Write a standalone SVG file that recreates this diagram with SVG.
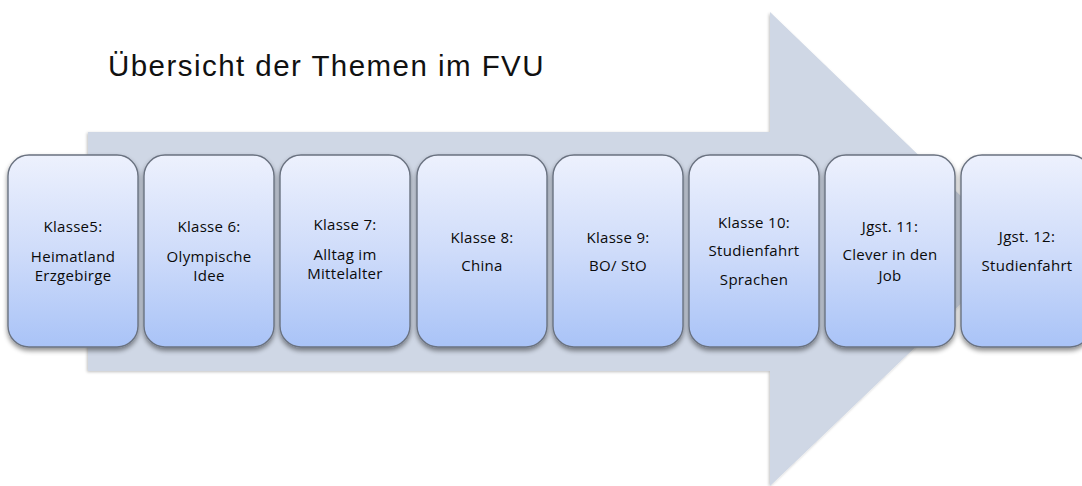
<svg xmlns="http://www.w3.org/2000/svg" width="1082" height="486" viewBox="0 0 1082 486">
<defs>
<linearGradient id="boxg" x1="0" y1="0" x2="0" y2="1">
<stop offset="0" stop-color="#edf1fd"/>
<stop offset="0.5" stop-color="#cfdcfa"/>
<stop offset="1" stop-color="#a9c3f7"/>
</linearGradient>
<filter id="sh" x="-10%" y="-10%" width="120%" height="125%">
<feGaussianBlur in="SourceAlpha" stdDeviation="2.5"/>
<feOffset dx="0" dy="3" result="b"/>
<feComponentTransfer><feFuncA type="linear" slope="0.45"/></feComponentTransfer>
<feMerge><feMergeNode/><feMergeNode in="SourceGraphic"/></feMerge>
</filter>
<filter id="ash" x="-5%" y="-5%" width="110%" height="110%">
<feGaussianBlur in="SourceAlpha" stdDeviation="1.5"/>
<feOffset dx="-1" dy="1"/>
<feComponentTransfer><feFuncA type="linear" slope="0.25"/></feComponentTransfer>
<feMerge><feMergeNode/><feMergeNode in="SourceGraphic"/></feMerge>
</filter>
</defs>
<style>
.box{fill:url(#boxg);stroke:#6a7280;stroke-width:1.4;filter:url(#sh)}
.t{font-family:"Open Sans","Liberation Sans",sans-serif;font-size:15px;letter-spacing:0.3px;fill:#0a0a0a;text-anchor:middle}
.title{font-family:"Liberation Sans",Arial,sans-serif;font-size:29.5px;letter-spacing:1.45px;fill:#111}
</style>
<rect width="1082" height="486" fill="#ffffff"/>
<g id="arrow">
<path d="M88,132 L770,132 L770,12 L1017,250 L770,486 L770,371 L88,371 Z" fill="#cfd7e5" filter="url(#ash)"/>
</g>
<g id="title">
<text class="title" x="108" y="76">Übersicht der Themen im FVU</text>
</g>
<g id="connectors"></g>
<g id="n1"><rect class="box" x="8" y="155" width="130" height="192" rx="21"/>
<text class="t" x="73" y="232">Klasse5:</text><text class="t" x="73" y="262">Heimatland</text><text class="t" x="73" y="281">Erzgebirge</text></g>
<g id="n2"><rect class="box" x="144" y="155" width="130" height="192" rx="21"/>
<text class="t" x="209" y="232">Klasse 6:</text><text class="t" x="209" y="262">Olympische</text><text class="t" x="209" y="281">Idee</text></g>
<g id="n3"><rect class="box" x="280" y="155" width="130" height="192" rx="21"/>
<text class="t" x="345" y="230">Klasse 7:</text><text class="t" x="345" y="260">Alltag im</text><text class="t" x="345" y="279">Mittelalter</text></g>
<g id="n4"><rect class="box" x="417" y="155" width="130" height="192" rx="21"/>
<text class="t" x="482" y="243">Klasse 8:</text><text class="t" x="482" y="271">China</text></g>
<g id="n5"><rect class="box" x="553" y="155" width="130" height="192" rx="21"/>
<text class="t" x="618" y="243">Klasse 9:</text><text class="t" x="618" y="271">BO/ StO</text></g>
<g id="n6"><rect class="box" x="689" y="155" width="130" height="192" rx="21"/>
<text class="t" x="754" y="228">Klasse 10:</text><text class="t" x="754" y="256">Studienfahrt</text><text class="t" x="754" y="285">Sprachen</text></g>
<g id="n7"><rect class="box" x="825" y="155" width="130" height="192" rx="21"/>
<text class="t" x="890" y="232">Jgst. 11:</text><text class="t" x="890" y="260">Clever in den</text><text class="t" x="890" y="281">Job</text></g>
<g id="n8"><rect class="box" x="961" y="155" width="130" height="192" rx="21"/>
<text class="t" x="1027" y="242">Jgst. 12:</text><text class="t" x="1027" y="271">Studienfahrt</text></g>
</svg>
